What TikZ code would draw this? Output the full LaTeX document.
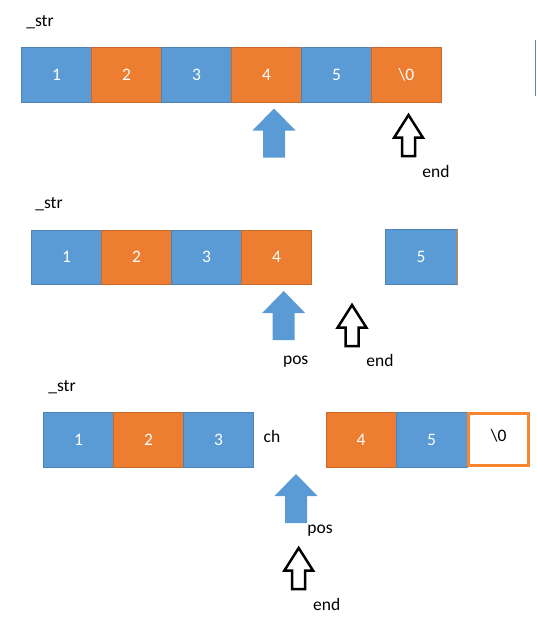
\documentclass[tikz,border=0pt]{standalone}
\usepackage{fontspec}
\setmainfont{Carlito}
\definecolor{cellblue}{HTML}{5B9BD5}
\definecolor{cellorange}{HTML}{ED7D31}
\definecolor{boxorange}{HTML}{F8862E}
\tikzset{
	bcell/.style={fill=cellblue, draw=cellblue!85!black, line width=0.5pt, text=white, minimum width=70pt, minimum height=55pt, inner sep=0pt, outer sep=0pt},
	ocell/.style={bcell, fill=cellorange, draw=cellorange!85!black},
	lbl/.style={inner sep=0pt},
	pics/bluearrow/.style={code={
		\fill[cellblue] (0,0) -- (21.5,22) -- (11,22) -- (11,49) -- (-11,49) -- (-11,22) -- (-21.5,22) -- cycle;
	}},
	pics/endarrow/.style={code={
		\draw[line width=2.5pt, fill=white, line join=miter] (0,0) -- (14.3,22.5) -- (6.5,22.5) -- (6.5,41) -- (-6.5,41) -- (-6.5,22.5) -- (-14.3,22.5) -- cycle;
	}},
}
\begin{document}
\begin{tikzpicture}[x=1pt, y=-1pt, font=\fontsize{17.5}{20}\selectfont]
	\useasboundingbox (0,0) rectangle (537,619);
	% first row
	\node[lbl] (strA) at (40,22.5) {\_str};
	\node[bcell] (a1) at (56.5,74.5) {1};
	\node[ocell] (a2) at (126.5,74.5) {2};
	\node[bcell] (a3) at (196.5,74.5) {3};
	\node[ocell] (a4) at (266.5,74.5) {4};
	\node[bcell] (a5) at (336.5,74.5) {5};
	\node[ocell] (a6) at (406.5,74.5) {\textbackslash0};
	\draw[cellblue!90!black, line width=1.5pt] (535.5,40) -- (535.5,96);
	\pic (posA) at (274,108.5) {bluearrow};
	\pic (endA) at (408.5,115) {endarrow};
	\node[lbl] (endtxtA) at (436,171) {end};
	% second row
	\node[lbl] (strB) at (49,204) {\_str};
	\node[bcell, minimum height=54pt] (b1) at (66.5,257) {1};
	\node[ocell, minimum height=54pt] (b2) at (136.5,257) {2};
	\node[bcell, minimum height=54pt] (b3) at (206.5,257) {3};
	\node[ocell, minimum height=54pt] (b4) at (276.5,257) {4};
	\node[bcell, minimum width=72pt] (b5) at (421,256.5) {5};
	\draw[cellorange, line width=1pt] (b5.north east) -- (b5.south east);
	\pic (posB) at (283.7,291) {bluearrow};
	\pic (endB) at (352,305) {endarrow};
	\node[lbl] (postxtB) at (295.7,361.7) {pos};
	\node[lbl] (endtxtB) at (380,360) {end};
	% third row
	\node[lbl] (strC) at (62,387) {\_str};
	\node[bcell, minimum height=54.5pt] (c1) at (78.5,439.7) {1};
	\node[ocell, minimum height=54.5pt] (c2) at (148.5,439.7) {2};
	\node[bcell, minimum height=54.5pt] (c3) at (218.5,439.7) {3};
	\node[lbl] (chtxt) at (272,436) {ch};
	\node[ocell, minimum height=54.5pt, minimum width=70.3pt] (c4) at (361,439.7) {4};
	\node[bcell, minimum height=54.5pt, minimum width=71pt] (c5) at (431.5,439.7) {5};
	\node[draw=boxorange, line width=3pt, fill=white, minimum width=59.7pt, minimum height=51.5pt, inner sep=0pt] (c6) at (498.7,439.7) {\raisebox{8pt}{\textbackslash0}};
	\pic (posC) at (296,474) {bluearrow};
	\node[lbl] (postxtC) at (320,530.7) {pos};
	\pic (endC) at (298.7,548) {endarrow};
	\node[lbl] (endtxtC) at (326.7,604) {end};
\end{tikzpicture}
\end{document}
